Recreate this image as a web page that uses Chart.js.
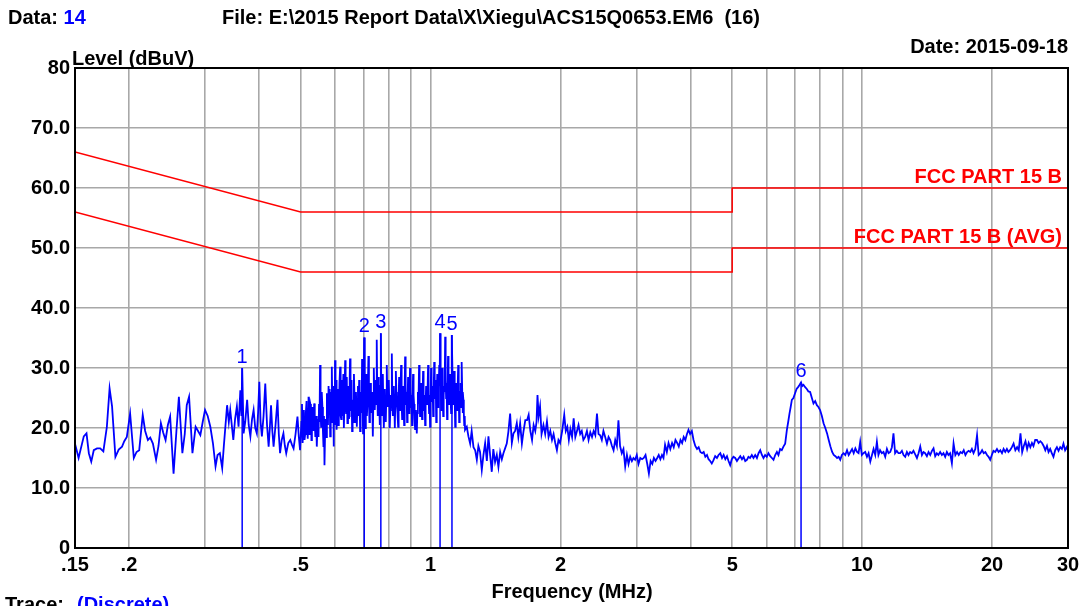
<!DOCTYPE html>
<html>
<head>
<meta charset="utf-8">
<title>Conducted emission scan</title>
<script src="https://cdn.jsdelivr.net/npm/chart.js@4.4.1/dist/chart.umd.min.js"></script>
<style>
  html, body { margin: 0; padding: 0; background: #ffffff; }
  #wrap { position: relative; width: 1086px; height: 606px; overflow: hidden; }
</style>
</head>
<body>
<div id="wrap"><canvas id="scan"></canvas></div>
<script>
// Frequency grid (MHz) and the labelled subset
const gridFreqs = [0.15, 0.2, 0.3, 0.4, 0.5, 0.6, 0.7, 0.8, 0.9, 1, 2, 3, 4, 5, 6, 7, 8, 9, 10, 20, 30];
const freqLabels = { '0.15': '.15', '0.2': '.2', '0.5': '.5', '1': '1', '2': '2', '5': '5', '10': '10', '20': '20', '30': '30' };

// Limit lines [MHz, dBuV]
const qpLimit  = [[0.15, 66], [0.5, 56], [5, 56], [5, 60], [30, 60]];
const avgLimit = [[0.15, 56], [0.5, 46], [5, 46], [5, 50], [30, 50]];

// Marked peaks
const markerNo    = ['1', '2', '3', '4', '5', '6'];
const markerFreq  = [0.366, 0.702, 0.767, 1.052, 1.121, 7.22];
const markerLevel = [30.0, 35.1, 35.8, 35.8, 35.5, 27.6];

// Measured trace [MHz, dBuV]
const trace = [
  [0.150,17.4],[0.1529,15.0],[0.1572,18.6],[0.1595,19.1],[0.1615,15.8],[0.1636,14.4],[0.1658,16.3],[0.1687,16.6],
  [0.1716,16.6],[0.1745,16.1],[0.1778,20.2],[0.1804,26.6],[0.1828,23.6],[0.1861,15.2],[0.1894,16.4],[0.1928,16.9],
  [0.1951,17.8],[0.1978,18.5],[0.2013,22.4],[0.2053,15.0],[0.2083,16.0],[0.2113,16.3],[0.2153,22.2],[0.2181,19.5],
  [0.2213,18.0],[0.2241,18.4],[0.2273,17.4],[0.2312,14.7],[0.2342,17.0],[0.2372,20.8],[0.2402,19.2],[0.2432,18.0],
  [0.2462,20.5],[0.2492,21.9],[0.2538,12.4],[0.2577,19.5],[0.2611,25.2],[0.266,15.8],[0.2694,19.0],[0.2723,23.8],
  [0.2757,25.2],[0.2807,15.8],[0.2855,20.2],[0.2892,19.5],[0.2928,18.8],[0.2965,21.0],[0.3002,23.0],[0.3045,22.0],
  [0.3088,20.2],[0.3131,17.5],[0.3175,13.6],[0.3209,15.5],[0.3249,15.8],[0.329,13.3],[0.3318,16.9],[0.3377,23.8],
  [0.3408,21.0],[0.3434,23.0],[0.3491,18.0],[0.3524,21.5],[0.3558,23.6],[0.359,20.2],[0.3624,26.3],[0.3645,22.0],
  [0.366,30.0],[0.3688,19.1],[0.372,21.0],[0.3758,24.7],[0.379,20.5],[0.3824,18.6],[0.3858,21.5],[0.389,23.0],
  [0.3924,20.0],[0.3958,19.1],[0.3984,22.5],[0.4011,27.7],[0.4038,21.0],[0.4066,18.6],[0.4102,22.0],[0.414,27.4],
  [0.4179,20.5],[0.4215,16.9],[0.4242,20.0],[0.4269,23.8],[0.4299,19.5],[0.4328,16.9],[0.4373,20.5],[0.4419,24.7],
  [0.445,19.0],[0.448,15.8],[0.452,18.0],[0.4561,19.1],[0.4597,17.0],[0.463,15.8],[0.4681,17.5],[0.4731,18.0],
  [0.4775,17.2],[0.4815,16.6],[0.4866,19.0],[0.4916,21.9],[0.4952,18.5],[0.4985,16.3],
  [0.502,21.0],[0.5036,24.0],[0.5053,17.5],[0.507,20.5],[0.5087,23.0],[0.5105,18.0],[0.5123,19.0],[0.514,22.5],
  [0.516,24.5],[0.5176,20.0],[0.5193,18.2],[0.5204,22.0],[0.5215,25.2],[0.5232,19.0],[0.5249,20.5],[0.5265,24.0],
  [0.5282,23.5],[0.5296,18.0],[0.531,19.7],[0.5325,23.5],[0.5341,22.0],[0.5357,19.5],[0.5374,24.1],[0.5391,21.0],
  [0.5408,18.5],[0.5429,22.0],[0.545,16.9],[0.5468,20.0],[0.5486,21.5],[0.55,18.5],[0.5515,24.0],[0.553,21.0],
  [0.5546,30.5],[0.5561,22.5],[0.5577,20.2],[0.5596,26.0],[0.5616,23.5],[0.5631,19.5],[0.5647,17.0],[0.5662,22.0],
  [0.5678,13.8],[0.5696,19.0],[0.5715,21.5],[0.5733,18.5],[0.5752,25.8],[0.5768,22.0],[0.5785,20.5],[0.5803,27.0],
  [0.5822,23.0],[0.5837,26.5],[0.5853,18.6],[0.5865,22.5],[0.5877,26.0],[0.5891,21.0],[0.5905,30.2],[0.592,24.5],
  [0.5936,22.0],[0.5948,27.0],[0.596,16.9],[0.5972,21.0],[0.5985,24.0],[0.5996,20.5],[0.6007,31.3],[0.6023,25.5],
  [0.604,23.0],[0.6051,28.0],[0.6063,19.7],[0.608,23.0],[0.6097,26.5],[0.6113,20.5],[0.613,22.0],[0.6151,27.5],
  [0.6173,30.2],[0.619,22.0],[0.6207,21.5],[0.6223,28.0],[0.624,26.0],[0.6251,22.0],[0.6263,24.7],[0.628,29.0],
  [0.6297,20.0],[0.6318,25.0],[0.634,31.3],[0.6356,24.0],[0.6373,22.5],[0.6395,28.5],[0.6417,20.8],[0.6437,24.0],
  [0.6457,27.0],[0.647,21.5],[0.6483,22.0],[0.6495,28.0],[0.6507,31.6],[0.6525,26.5],[0.6543,23.0],[0.6561,28.0],
  [0.6579,19.5],[0.6591,23.0],[0.6604,24.7],[0.6624,21.0],[0.6644,29.0],[0.6665,25.0],[0.6687,21.0],[0.6717,26.0],
  [0.6748,20.2],[0.6768,24.0],[0.6788,27.0],[0.681,22.0],[0.6831,28.0],[0.6849,24.0],[0.6867,19.5],[0.6885,23.0],
  [0.6903,26.0],[0.6921,22.5],[0.6939,31.5],[0.6957,25.0],[0.6975,19.1],[0.6998,26.0],[0.702,35.1],[0.7041,25.0],
  [0.7062,20.0],[0.7081,24.5],[0.7101,29.0],[0.712,22.0],[0.714,24.0],[0.7159,27.0],[0.7178,32.0],[0.7198,25.0],
  [0.7217,21.0],[0.7237,24.0],[0.7256,27.5],[0.7276,24.5],[0.7295,22.5],[0.7322,26.0],[0.7349,18.6],[0.7368,24.0],
  [0.7388,30.0],[0.7407,25.5],[0.7426,23.0],[0.7447,26.0],[0.7469,28.0],[0.7486,24.0],[0.7504,34.7],[0.7525,26.0],
  [0.7545,22.0],[0.7566,28.5],[0.7587,26.5],[0.7608,23.5],[0.7628,20.5],[0.7649,27.0],[0.767,35.8],[0.769,25.5],
  [0.7711,22.0],[0.7731,26.0],[0.7752,29.0],[0.7772,24.0],[0.7793,20.0],[0.7814,23.5],[0.7835,26.5],[0.7855,23.0],
  [0.7876,21.0],[0.7896,25.0],[0.7917,30.5],[0.7938,26.0],[0.7959,23.5],[0.798,25.5],[0.8,28.0],[0.8022,24.5],
  [0.8044,20.0],[0.8066,23.0],[0.8088,25.5],[0.811,24.0],[0.8133,32.4],[0.8155,25.0],[0.8177,22.0],[0.8199,24.5],
  [0.8221,27.0],[0.8243,23.5],[0.8265,20.0],[0.8288,25.0],[0.831,29.5],[0.8332,26.0],[0.8354,24.0],[0.8383,22.5],
  [0.8412,20.2],[0.8434,25.0],[0.8456,28.5],[0.8478,25.0],[0.85,23.0],[0.8523,27.0],[0.8546,30.5],[0.857,24.0],
  [0.8593,21.5],[0.8616,24.5],[0.8639,27.0],[0.8662,23.5],[0.8685,20.5],[0.8708,26.0],[0.8731,31.9],[0.8755,26.5],
  [0.8778,24.0],[0.8801,26.0],[0.8824,21.0],[0.8847,25.0],[0.887,28.5],[0.8894,25.5],[0.8917,22.5],[0.894,26.5],
  [0.8963,30.0],[0.8987,26.0],[0.901,23.5],[0.9035,25.5],[0.9059,20.5],[0.9084,24.5],[0.9109,29.0],[0.9134,25.5],
  [0.9158,24.0],[0.9183,21.5],[0.9208,19.8],[0.925,23.0],[0.9292,19.1],[0.9319,22.5],[0.9346,26.0],[0.9376,24.0],
  [0.9406,30.5],[0.9431,25.5],[0.9455,22.0],[0.948,25.0],[0.9505,27.5],[0.9531,24.0],[0.9557,21.5],[0.9583,25.0],
  [0.9609,29.5],[0.9635,25.5],[0.9661,23.0],[0.9688,25.5],[0.9714,20.5],[0.974,24.0],[0.9766,27.0],[0.9792,25.0],
  [0.9818,24.0],[0.9844,26.5],[0.987,30.5],[0.9896,25.0],[0.9922,22.5],[0.9948,25.5],[0.9974,20.2],[1.0001,24.5],
  [1.0028,30.0],[1.0056,26.0],[1.0084,24.5],[1.0112,27.0],[1.014,22.0],[1.0168,26.0],[1.0196,31.0],[1.0224,27.0],
  [1.0251,25.0],[1.0279,28.0],[1.0307,21.0],[1.0335,25.0],[1.0363,29.0],[1.0391,26.0],[1.0419,23.5],[1.0447,26.5],
  [1.0475,30.5],[1.0497,27.0],[1.052,35.8],[1.0553,28.0],[1.0587,23.0],[1.0615,26.5],[1.0642,30.0],[1.067,26.0],
  [1.0698,22.0],[1.0726,25.5],[1.0754,27.0],[1.0782,26.0],[1.081,35.2],[1.0838,28.0],[1.0866,25.0],[1.0894,27.5],
  [1.0922,21.5],[1.095,26.0],[1.0978,32.0],[1.1008,27.0],[1.1037,24.0],[1.1068,26.5],[1.1098,29.0],[1.1129,25.0],
  [1.116,22.5],[1.1185,27.0],[1.121,35.5],[1.1246,28.5],[1.1282,24.0],[1.1313,26.5],[1.1344,29.5],[1.1375,25.0],
  [1.1405,20.2],[1.1436,24.0],[1.1466,27.5],[1.1497,26.0],[1.1528,23.0],[1.1559,27.0],[1.1589,30.5],[1.162,26.0],
  [1.165,21.0],[1.1681,24.5],[1.1712,26.0],[1.1743,27.5],[1.1773,23.5],[1.1795,27.0],[1.1816,31.0],[1.1841,26.0],
  [1.1865,22.5],[1.189,26.0],[1.1914,24.7],[1.1942,22.5],[1.1969,20.5],[1.2,22.0],[1.202,19.7],
  [1.2133,20.2],[1.224,18.6],[1.2353,17.4],
  [1.2453,19.5],[1.2573,16.8],[1.2687,16.3],[1.28,14.7],[1.2907,17.0],[1.3022,16.0],[1.3144,13.0],[1.3259,15.5],
  [1.3381,17.5],[1.3504,14.5],[1.3619,18.6],[1.3741,15.5],[1.3863,12.7],[1.3978,16.5],[1.4109,14.3],[1.424,15.5],
  [1.4364,13.5],[1.4496,16.0],[1.4628,14.8],[1.4752,15.8],[1.4884,16.6],[1.5017,17.4],[1.5149,19.4],[1.5289,22.4],
  [1.543,17.5],[1.5562,19.1],[1.5702,19.5],[1.5843,20.8],[1.5975,18.5],[1.6127,20.8],[1.628,17.4],[1.6425,19.5],
  [1.6579,21.3],[1.6733,21.3],[1.6878,22.2],[1.7032,19.5],[1.7186,18.0],[1.7331,20.5],[1.7484,19.5],[1.7602,21.0],
  [1.7693,25.5],[1.7801,22.0],[1.7937,23.6],[1.8081,19.0],[1.8264,20.5],[1.8436,19.0],[1.8609,21.1],[1.8771,18.5],
  [1.8944,19.5],[1.9116,18.0],[1.9279,19.0],[1.9452,17.5],[1.9624,16.3],[1.9787,18.0],[1.9959,17.5],[2.0181,19.5],
  [2.0407,22.2],[2.0577,19.5],[2.0747,20.2],[2.0916,18.0],[2.1086,19.8],[2.1278,18.5],[2.1459,21.6],[2.165,18.5],
  [2.1843,19.5],[2.2024,20.5],[2.2217,19.0],[2.2409,19.5],[2.2602,18.0],[2.2817,18.5],[2.3033,19.5],[2.3236,18.0],
  [2.3452,19.3],[2.3668,18.5],[2.3871,19.5],[2.4086,18.8],[2.4302,22.4],[2.4505,19.0],[2.4721,18.8],[2.4937,18.0],
  [2.5154,19.5],[2.5391,18.5],[2.5629,17.4],[2.5852,18.5],[2.6089,18.0],[2.6327,17.0],[2.655,16.3],[2.6788,18.0],
  [2.7025,17.0],[2.7249,21.3],[2.7486,17.0],[2.7745,15.8],[2.799,16.5],[2.8251,13.6],[2.8512,15.5],[2.8757,14.0],
  [2.9018,15.2],[2.9279,14.5],[2.9524,15.0],[2.9785,14.7],[3.0052,15.5],[3.0329,14.0],[3.0623,15.0],[3.0917,14.8],
  [3.1194,15.0],[3.1488,15.5],[3.1782,14.0],[3.2059,12.4],[3.2353,14.5],[3.2647,14.0],[3.2924,15.0],[3.3218,14.5],
  [3.3512,15.0],[3.3789,15.5],[3.4083,14.8],[3.4377,15.5],[3.4654,15.0],[3.4948,17.2],[3.528,16.0],[3.56,17.5],
  [3.594,16.5],[3.628,17.5],[3.66,16.8],[3.694,18.0],[3.728,17.5],[3.76,16.9],[3.794,18.0],[3.828,17.5],
  [3.86,18.5],[3.894,18.0],[3.928,19.0],[3.96,19.7],[3.994,19.0],[4.0317,19.5],[4.0679,18.0],[4.1063,17.0],
  [4.1448,16.5],[4.181,16.8],[4.2195,16.0],[4.258,15.8],[4.2942,16.0],[4.3326,15.2],[4.3711,15.5],[4.4073,14.8],
  [4.4457,14.5],[4.4842,14.1],[4.5228,14.6],[4.566,15.3],[4.6091,15.0],[4.6497,15.5],[4.6929,15.8],[4.736,15.0],
  [4.7766,15.5],[4.8198,14.8],[4.8629,15.3],[4.9035,14.5],[4.9467,13.8],[4.9898,14.8],[5.0335,15.2],[5.081,15.0],
  [5.1285,14.5],[5.1732,14.9],[5.2207,15.3],[5.2681,14.8],[5.3128,15.2],[5.3603,14.5],[5.4078,14.7],[5.4525,15.2],
  [5.5,15.0],[5.5521,15.5],[5.6012,15.0],[5.6534,15.5],[5.7055,15.0],[5.7546,15.8],[5.8068,16.3],[5.8589,15.5],
  [5.908,15.0],[5.9601,15.5],[6.0133,15.2],[6.0667,15.8],[6.1233,15.3],[6.18,15.0],[6.2333,14.7],[6.29,15.5],
  [6.3467,16.0],[6.4,15.5],[6.4567,16.5],[6.5144,16.3],[6.5719,16.9],[6.6331,17.4],[6.6942,19.7],[6.741,21.0],
  [6.7878,22.4],[6.8309,23.5],[6.8741,24.7],[6.9317,25.0],[6.9928,25.8],[7.0504,26.5],[7.1202,26.9],[7.1667,27.2],
  [7.22,27.6],[7.2636,27.0],[7.314,27.2],[7.3798,26.8],[7.4457,26.5],[7.5083,26.1],[7.5785,26.0],[7.6488,25.0],
  [7.7149,24.1],[7.7851,24.5],[7.8554,23.8],[7.9215,23.5],[7.9917,23.0],[8.0682,22.0],[8.1409,20.8],[8.2182,20.0],
  [8.2955,19.1],[8.3682,18.0],[8.4454,16.9],[8.5227,16.0],[8.5954,15.5],[8.6727,15.3],[8.75,15.0],[8.8227,15.2],
  [8.9,14.7],[8.9773,15.5],[9.0556,15.8],[9.1414,15.5],[9.2273,16.3],[9.3081,15.5],[9.394,16.0],[9.4798,16.5],
  [9.5606,15.8],[9.6465,16.6],[9.7323,16.0],[9.8131,15.8],[9.899,17.7],[9.9848,15.5],[10.0726,15.8],[10.1676,16.0],
  [10.2626,15.2],[10.352,15.8],[10.447,14.4],[10.5419,15.5],[10.6313,16.5],[10.7263,15.5],[10.8213,17.7],[10.9106,15.5],
  [11.0061,16.3],[11.1104,15.8],[11.2086,16.0],[11.3129,15.2],[11.4172,16.5],[11.5153,15.8],[11.6196,16.0],[11.7239,16.8],
  [11.8221,19.1],[11.9264,15.8],[12.0333,16.2],[12.14,15.8],[12.2533,15.8],[12.3667,16.2],[12.4733,15.5],[12.5867,15.2],
  [12.7,16.0],[12.8067,15.5],[12.92,16.0],[13.0362,15.8],[13.1522,16.2],[13.2754,15.6],[13.3986,15.0],[13.5145,15.8],
  [13.6377,16.9],[13.7609,15.5],[13.8768,16.0],[14.0,15.8],[14.1308,15.3],[14.2538,16.0],[14.3846,15.5],[14.5154,16.2],
  [14.6385,16.6],[14.7692,15.3],[14.9,15.8],[15.0248,15.5],[15.1653,16.0],[15.3058,15.5],[15.438,15.8],[15.5785,15.2],
  [15.719,16.0],[15.8512,15.5],[15.9917,15.8],[16.1454,14.1],[16.2909,17.4],[16.4454,15.5],[16.6,16.0],[16.7454,15.5],
  [16.9,16.0],[17.0545,15.8],[17.2,16.3],[17.3545,15.5],[17.509,16.0],[17.6545,16.2],[17.8091,16.0],[17.9636,16.5],
  [18.1212,15.8],[18.2929,16.5],[18.4646,18.8],[18.6263,15.5],[18.798,15.8],[18.9697,16.3],[19.1313,15.8],[19.303,16.0],
  [19.4747,15.5],[19.6364,15.2],[19.8081,14.7],[19.9798,15.5],[20.1564,16.2],[20.3463,16.0],[20.5362,16.5],[20.7149,16.0],
  [20.9048,16.3],[21.0947,15.8],[21.2734,16.5],[21.4633,16.0],[21.6532,16.5],[21.8319,16.0],[22.0251,16.3],[22.2385,16.8],
  [22.4393,17.4],[22.6527,16.3],[22.866,16.8],[23.0669,16.3],[23.2803,19.1],[23.4936,16.0],[23.6945,17.0],[23.9079,17.8],
  [24.1213,16.5],[24.3222,17.5],[24.5356,16.8],[24.749,17.5],[24.9498,17.0],[25.1816,18.0],[25.4191,18.0],[25.6426,17.5],
  [25.8801,17.8],[26.1176,17.5],[26.3411,17.0],[26.5786,16.3],[26.8161,17.0],[27.0396,16.0],[27.2771,16.5],[27.5152,15.8],
  [27.7591,15.2],[28.0181,16.3],[28.2772,16.8],[28.521,16.2],[28.78,16.8],[29.0391,16.5],[29.283,17.4],[29.542,16.3],
  [29.8011,16.8],[30.0,16.3]
];

const FONT = '"Liberation Sans", Arial, Helvetica, sans-serif';
const BLUE = '#0000ff';
const RED = '#ff0000';

const toXY = pts => pts.map(p => ({ x: p[0], y: p[1] }));

// Each marker is a vertical stroke from 0 dBuV up to its level; NaN breaks the line between markers
const markerStrokes = [];
markerFreq.forEach((f, i) => {
  markerStrokes.push({ x: f, y: 0 }, { x: f, y: markerLevel[i] }, { x: f, y: NaN });
});

const overlayPlugin = {
  id: 'overlay',
  afterDraw(chart) {
    const ctx = chart.ctx;
    const a = chart.chartArea;
    const xs = chart.scales.x, ys = chart.scales.y;
    ctx.save();

    // frame round the plot
    ctx.strokeStyle = '#000000';
    ctx.lineWidth = 2;
    ctx.strokeRect(a.left, a.top, a.right - a.left, a.bottom - a.top);

    // marker numbers
    ctx.font = '20px ' + FONT;
    ctx.fillStyle = BLUE;
    ctx.textAlign = 'center';
    ctx.textBaseline = 'alphabetic';
    markerNo.forEach((n, i) => {
      ctx.fillText(n, xs.getPixelForValue(markerFreq[i]), ys.getPixelForValue(markerLevel[i]) - 5);
    });

    // limit line names
    ctx.font = 'bold 20px ' + FONT;
    ctx.fillStyle = RED;
    ctx.textAlign = 'right';
    ctx.fillText('FCC PART 15 B', a.right - 6, ys.getPixelForValue(60) - 5);
    ctx.fillText('FCC PART 15 B (AVG)', a.right - 6, ys.getPixelForValue(50) - 5);

    // header and footer texts
    ctx.textAlign = 'left';
    ctx.fillStyle = '#000000';
    ctx.fillText('Data:', 8, 24);
    const w = ctx.measureText('Data: ').width;
    ctx.fillStyle = BLUE;
    ctx.fillText('14', 8 + w, 24);
    ctx.fillStyle = '#000000';
    ctx.fillText('File: E:\\2015 Report Data\\X\\Xiegu\\ACS15Q0653.EM6  (16)', 222, 24);
    ctx.fillText('Level (dBuV)', 72, 65);
    ctx.textAlign = 'right';
    ctx.fillText('Date: 2015-09-18', a.right, 53);
    ctx.textAlign = 'center';
    ctx.fillText('Frequency (MHz)', 572, 598);
    ctx.textAlign = 'left';
    ctx.fillText('Trace:', 5, 611);
    ctx.fillStyle = BLUE;
    ctx.fillText('(Discrete)', 77, 611);
    ctx.restore();
  }
};

new Chart(document.getElementById('scan'), {
  type: 'line',
  data: {
    datasets: [
      { data: toXY(qpLimit), borderColor: RED, borderWidth: 1.5, pointRadius: 0, tension: 0 },
      { data: toXY(avgLimit), borderColor: RED, borderWidth: 1.5, pointRadius: 0, tension: 0 },
      { data: toXY(trace), borderColor: BLUE, borderWidth: 1.8, pointRadius: 0, tension: 0 },
      { data: markerStrokes, borderColor: BLUE, borderWidth: 1.5, pointRadius: 0, tension: 0, spanGaps: false }
    ]
  },
  options: {
    responsive: true,
    maintainAspectRatio: false,
    animation: false,
    events: [],
    layout: { padding: { top: 68, right: 18, left: 0, bottom: 0 } },
    plugins: { legend: { display: false }, tooltip: { enabled: false } },
    scales: {
      x: {
        type: 'logarithmic',
        min: 0.15,
        max: 30,
        afterBuildTicks: s => { s.ticks = gridFreqs.map(v => ({ value: v })); },
        afterFit: s => { s.height = 58; },
        border: { display: false },
        grid: { color: '#a8a8a8', lineWidth: 1.6, drawTicks: false },
        ticks: {
          autoSkip: false, maxRotation: 0, minRotation: 0, padding: 5,
          color: '#000000',
          font: { family: FONT, size: 20, weight: 'bold' },
          callback: v => freqLabels[String(v)] || ''
        }
      },
      y: {
        type: 'linear',
        min: 0,
        max: 80,
        afterFit: s => { s.width = 75; },
        border: { display: false },
        grid: { color: '#a8a8a8', lineWidth: 1.6, drawTicks: false },
        ticks: {
          stepSize: 10, padding: 5,
          color: '#000000',
          font: { family: FONT, size: 20, weight: 'bold' },
          callback: v => (v === 0 || v === 80) ? String(v) : v.toFixed(1)
        }
      }
    }
  },
  plugins: [overlayPlugin]
});
</script>
</body>
</html>
